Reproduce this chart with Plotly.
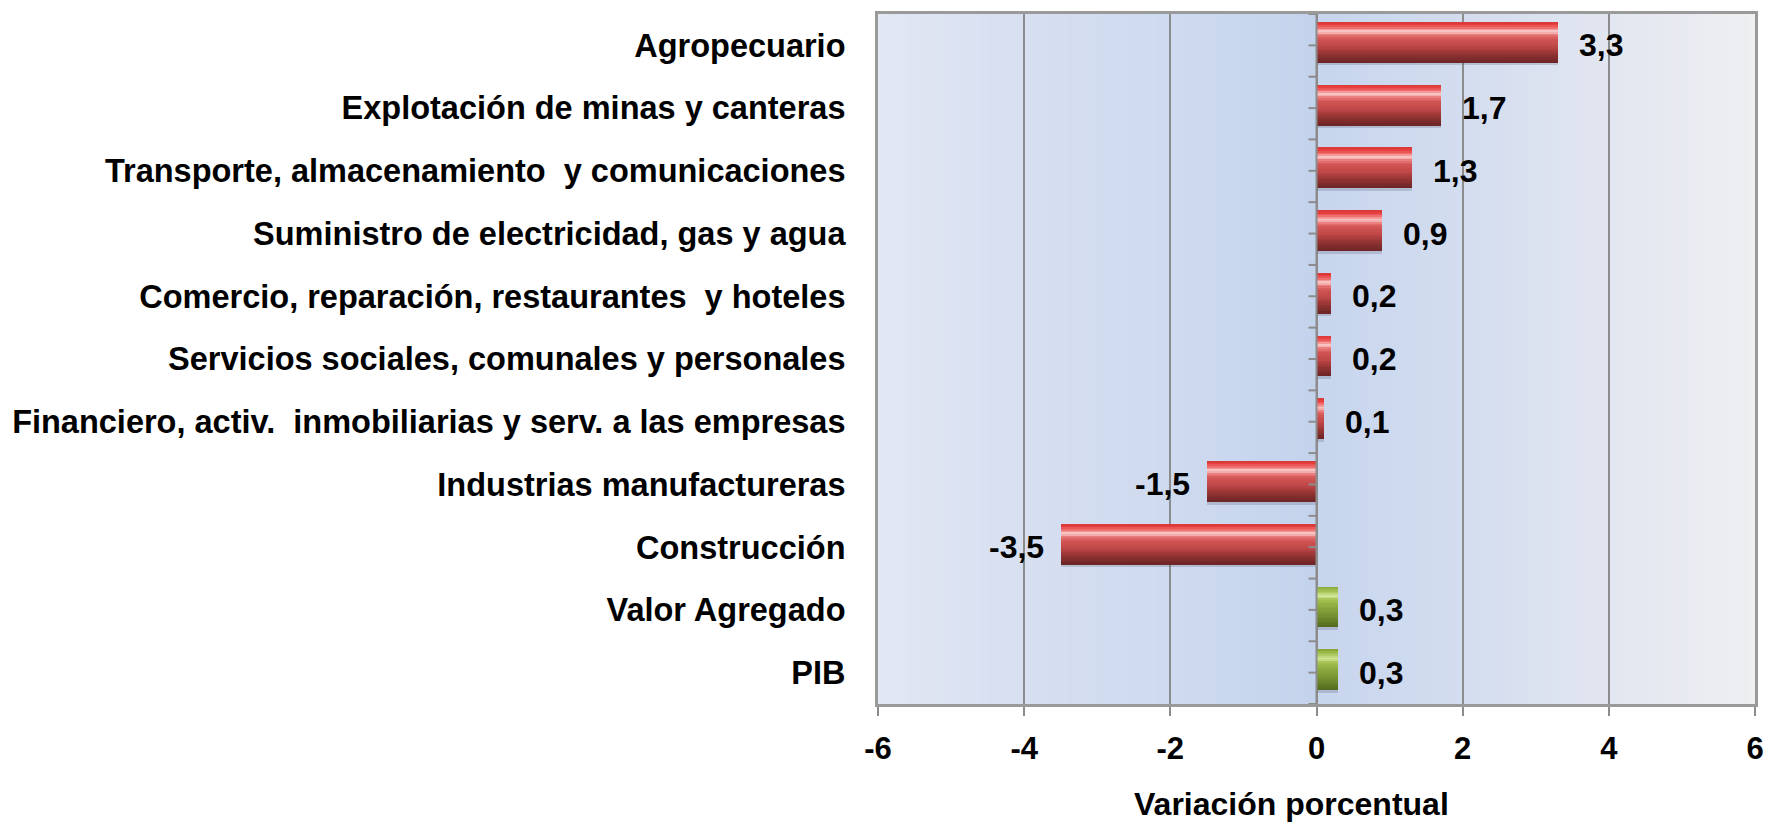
import plotly.graph_objects as go

# Data (bottom to top)
categories = [
    "PIB",
    "Valor Agregado",
    "Construcción",
    "Industrias manufactureras",
    "Financiero, activ.\u00a0 inmobiliarias y serv. a las empresas",
    "Servicios sociales, comunales y personales",
    "Comercio, reparación, restaurantes\u00a0 y hoteles",
    "Suministro de electricidad, gas y agua",
    "Transporte, almacenamiento\u00a0 y comunicaciones",
    "Explotación de minas y canteras",
    "Agropecuario",
]
values = [0.3, 0.3, -3.5, -1.5, 0.1, 0.2, 0.2, 0.9, 1.3, 1.7, 3.3]
groups = ["total", "total", "sector", "sector", "sector", "sector", "sector",
          "sector", "sector", "sector", "sector"]
x_ticks = [-6, -4, -2, 0, 2, 4, 6]

FONT = "Liberation Sans, Arial, sans-serif"

# page has an 8px body margin: compensate so the plot box matches the target
W, H = 1773, 815
L, R, T, B = 870, 26, 3, 119
PW, PH = W - L - R, H - T - B

def interp(profile, s):
    for (s0, c0), (s1, c1) in zip(profile[:-1], profile[1:]):
        if s0 <= s <= s1:
            t = (s - s0) / (s1 - s0) if s1 > s0 else 0
            return "rgb(%d,%d,%d)" % tuple(round(a + (b - a) * t) for a, b in zip(c0, c1))
    return "rgb(%d,%d,%d)" % profile[-1][1]

red_profile = [(0, (214, 54, 54)), (0.06, (230, 62, 62)), (0.14, (238, 104, 104)),
               (0.24, (250, 206, 206)), (0.32, (232, 120, 120)), (0.42, (210, 84, 84)),
               (0.60, (192, 72, 72)), (0.78, (150, 52, 52)), (1.0, (108, 36, 36))]
green_profile = [(0, (128, 158, 52)), (0.06, (150, 182, 70)), (0.14, (172, 200, 96)),
                 (0.24, (214, 232, 160)), (0.32, (166, 194, 82)), (0.5, (140, 170, 62)),
                 (0.75, (114, 142, 48)), (1.0, (84, 106, 32))]

fig = go.Figure()

# background gradient strips
stops = [(-6, (226, 231, 243)), (-4, (215, 223, 241)), (-2, (206, 218, 239)),
         (-0.05, (196, 211, 236)), (0.05, (199, 213, 237)), (2, (211, 221, 239)),
         (4, (226, 230, 240)), (6, (238, 239, 241))]
n_strips = 120
for i in range(n_strips):
    xa = -6 + 12 * i / n_strips
    xb = -6 + 12 * (i + 1) / n_strips
    fig.add_shape(type="rect", xref="x", yref="paper", x0=xa, x1=xb + 0.01, y0=0, y1=1,
                  fillcolor=interp(stops, (xa + xb) / 2), line_width=0, layer="below")

BW = 0.64
SHIFT = 0.05
# shadow
fig.add_trace(go.Bar(
    y=categories, x=values, orientation="h",
    offset=-BW / 2 + SHIFT - 0.05, width=BW,
    marker=dict(color="rgba(50,50,80,0.18)", line_width=0),
    hoverinfo="skip", showlegend=False,
))

# bevel-like gradient bands
n_bands = 24
for k in range(n_bands):
    s = (k + 0.5) / n_bands  # 0 = top, 1 = bottom
    top = BW / 2 - BW * k / n_bands + SHIFT
    off = top - BW / n_bands
    red = interp(red_profile, s)
    green = interp(green_profile, s)
    fig.add_trace(go.Bar(
        y=categories, x=values, orientation="h",
        offset=off, width=BW / n_bands + 0.002,
        marker=dict(color=[green if g == "total" else red for g in groups], line_width=0),
        hoverinfo="skip", showlegend=False,
    ))

# data labels
for c, v in zip(categories, values):
    fig.add_annotation(
        x=v, y=c, xref="x", yref="y",
        text=("%.1f" % v).replace(".", ","),
        showarrow=False,
        xanchor="left" if v >= 0 else "right",
        xshift=19 if v >= 0 else -15,
        font=dict(family=FONT, size=32, color="black", weight="bold"),
    )

# zero axis line and tick marks (major + minor)
fig.add_shape(type="line", xref="x", yref="paper", x0=0, x1=0, y0=0, y1=1,
              line=dict(color="#8c8c8c", width=2))
for i in range(2 * len(categories) + 1):
    yv = i / 2 - 0.5
    fig.add_shape(type="line", xref="x", yref="y", xsizemode="pixel", xanchor=0,
                  x0=-8, x1=0, y0=yv, y1=yv,
                  line=dict(color="#8c8c8c", width=2))

# axis title
fig.add_annotation(
    x=(1283 - L) / PW, y=-(804 - 8 - T - PH) / PH, xref="paper", yref="paper",
    text="Variación porcentual", showarrow=False, xanchor="center", yanchor="middle",
    font=dict(family=FONT, size=32, color="black", weight="bold"),
)

fig.update_layout(
    width=W, height=H,
    margin=dict(l=L, r=R, t=T, b=B),
    paper_bgcolor="white",
    plot_bgcolor="rgba(0,0,0,0)",
    barmode="overlay",
    bargap=0,
    showlegend=False,
    xaxis=dict(
        range=[-6, 6], tickvals=x_ticks, ticktext=[str(t) for t in x_ticks],
        showgrid=True, gridcolor="#8c8c8c", gridwidth=2,
        zeroline=False,
        showline=True, linecolor="#9a9a9a", linewidth=3, mirror=True,
        ticks="outside", ticklen=9, tickwidth=2, tickcolor="#8c8c8c",
        ticklabelstandoff=6,
        tickfont=dict(family=FONT, size=31, color="black", weight="bold"),
    ),
    yaxis=dict(
        categoryorder="array", categoryarray=categories,
        range=[-0.5, len(categories) - 0.5],
        showgrid=False, zeroline=False,
        showline=True, linecolor="#9a9a9a", linewidth=3, mirror=True,
        ticks="", ticklabelstandoff=23,
        tickfont=dict(family=FONT, size=32.5, color="black", weight="bold"),
    ),
)

fig.write_html("out.html")
